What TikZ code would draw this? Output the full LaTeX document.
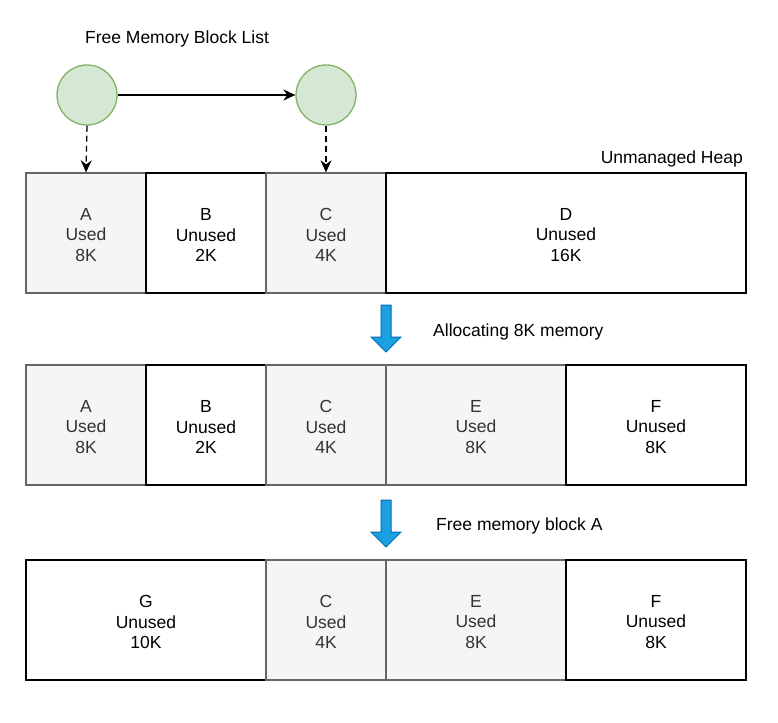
\documentclass[tikz,border=0pt]{standalone}
\usepackage{fontspec}
\setmainfont{Liberation Sans}
\usetikzlibrary{arrows.meta}
\definecolor{usedfill}{HTML}{F5F5F5}
\definecolor{usedline}{HTML}{666666}
\definecolor{usedtext}{HTML}{333333}
\definecolor{cfill}{HTML}{D5E8D4}
\definecolor{cline}{HTML}{82B366}
\definecolor{bfill}{HTML}{1BA1E2}
\definecolor{bline}{HTML}{006EAF}
\begin{document}
\begin{tikzpicture}[x=1pt,y=-1pt,
  txt/.style={font=\fontsize{17.5}{20.5}\selectfont},
  lbl/.style={txt,inner sep=0pt},
  blk/.style={draw,line width=1.3pt,minimum height=120pt,inner sep=0pt},
  used/.style={blk,fill=usedfill,draw=usedline,label={[lbl,align=center,yshift=-2pt,text=usedtext]center:#1}},
  unused/.style={blk,fill=white,draw=black,label={[lbl,align=center,yshift=-2pt,text=black]center:#1}},
  fnode/.style={circle,draw=cline,fill=cfill,line width=1.3pt,minimum size=60pt,inner sep=0pt},
  conn/.style={line width=1.3pt,-{Stealth[length=12pt,width=11pt]}},
  bigarrow/.style={draw=bline,fill=bfill,line width=1pt,line join=miter}]
\useasboundingbox (0,0) rectangle (778,722);
% free list
\node[lbl] (title) at (177,38.5) {Free Memory Block List};
\node[fnode] (f1) at (87,95) {};
\node[fnode] (f2) at (326,95) {};
\draw[conn] (f1) -- (f2);
% row 1
\node[lbl,anchor=east] (heap) at (743,158.5) {Unmanaged Heap};
\node[used={A\\Used\\8K},minimum width=120pt] (a1) at (86,233) {};
\node[unused={B\\Unused\\2K},minimum width=120pt] (b1) at (206,233) {};
\node[used={C\\Used\\4K},minimum width=120pt] (c1) at (326,233) {};
\node[unused={D\\Unused\\16K},minimum width=360pt] (d1) at (566,233) {};
\draw[conn,dash pattern=on 6pt off 4pt] (f1.south) -- (a1.north);
\draw[conn,dash pattern=on 6pt off 4pt] (f2.south) -- (c1.north);
% arrow 1
\draw[bigarrow] (381,305) -- (391,305) -- (391,337) -- (401,337) -- (386,352) -- (371,337) -- (381,337) -- cycle;
\node[lbl,anchor=west] (alloc) at (433,331.5) {Allocating 8K memory};
% row 2
\node[used={A\\Used\\8K},minimum width=120pt] (a2) at (86,425) {};
\node[unused={B\\Unused\\2K},minimum width=120pt] (b2) at (206,425) {};
\node[used={C\\Used\\4K},minimum width=120pt] (c2) at (326,425) {};
\node[used={E\\Used\\8K},minimum width=180pt] (e2) at (476,425) {};
\node[unused={F\\Unused\\8K},minimum width=180pt] (f2b) at (656,425) {};
% arrow 2
\draw[bigarrow] (381,500) -- (391,500) -- (391,532) -- (401,532) -- (386,547) -- (371,532) -- (381,532) -- cycle;
\node[lbl,anchor=west] (freea) at (436,525.5) {Free memory block A};
% row 3
\node[unused={G\\Unused\\10K},minimum width=240pt] (g3) at (146,620) {};
\node[used={C\\Used\\4K},minimum width=120pt] (c3) at (326,620) {};
\node[used={E\\Used\\8K},minimum width=180pt] (e3) at (476,620) {};
\node[unused={F\\Unused\\8K},minimum width=180pt] (f3) at (656,620) {};
\end{tikzpicture}
\end{document}
